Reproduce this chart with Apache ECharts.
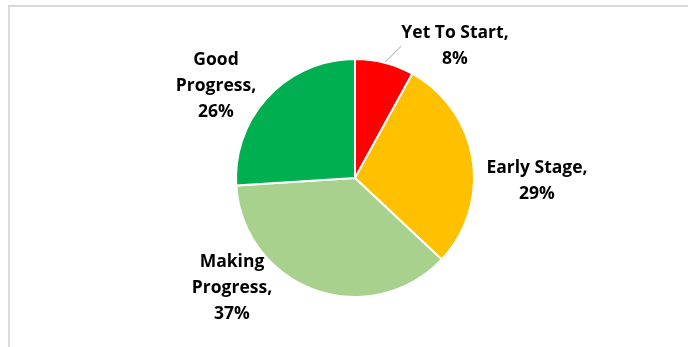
<!DOCTYPE html>
<html><head><meta charset="utf-8">
<script src="https://cdn.jsdelivr.net/npm/echarts@6/dist/echarts.min.js"></script>
<style>html,body{margin:0;padding:0;background:#fff}#c{width:688px;height:347px}</style>
</head><body><div id="c"></div>
<script>
const categories = ['Yet To Start', 'Early Stage', 'Making Progress', 'Good Progress'];
const values = [8, 29, 37, 26];
const colors = ['#FF0000', '#FFC000', '#A9D18E', '#00B050'];
const labelLines = [['Yet To Start,', '8%'], ['Early Stage,', '29%'], ['Making', 'Progress,', '37%'], ['Good', 'Progress,', '26%']];

const labelCenters = [[455, 46], [537, 181], [232, 288], [216, 86]];

const chart = echarts.init(document.getElementById('c'));
chart.setOption({
  animation: false,
  backgroundColor: '#fff',
  graphic: [{
    type: 'rect', silent: true,
    shape: { x: 9, y: 6, width: 700, height: 360 },
    style: { fill: 'none', stroke: '#d9d9d9', lineWidth: 2 }
  }],
  series: [{
    type: 'pie',
    center: [355, 178],
    radius: 119,
    startAngle: 90,
    clockwise: true,
    itemStyle: { borderColor: '#fff', borderWidth: 2 },
    data: categories.map((c, i) => ({
      name: c, value: values[i],
      itemStyle: { color: colors[i] },
      labelLine: { show: i === 0, length: 10, length2: 0, lineStyle: { color: '#a6a6a6', width: 1 } }
    })),
    label: {
      show: true,
      position: 'outside',
      formatter: p => labelLines[p.dataIndex].join('\n'),
      fontFamily: 'Open Sans',
      fontWeight: 'bold',
      fontSize: 17.5,
      lineHeight: 26,
      color: '#000',
      align: 'center'
    },
    labelLayout: p => ({
      x: labelCenters[p.dataIndex][0],
      y: labelCenters[p.dataIndex][1],
      align: 'center',
      verticalAlign: 'middle'
    })
  }]
});
</script></body></html>
